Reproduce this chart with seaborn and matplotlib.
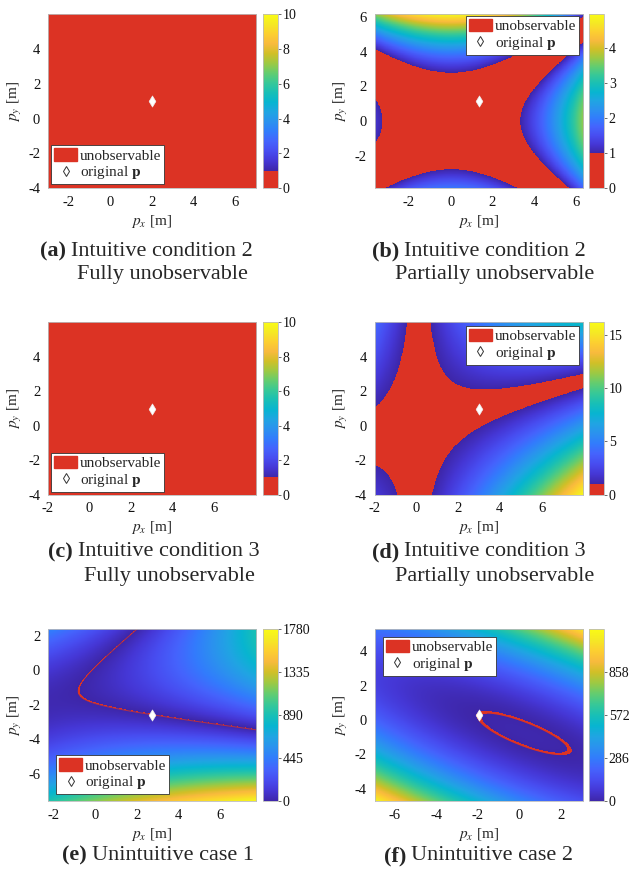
import numpy as np
import matplotlib
matplotlib.use("Agg")
import matplotlib.pyplot as plt
import seaborn as sns
from matplotlib.colors import LinearSegmentedColormap, Normalize
from matplotlib.patches import Patch
from matplotlib.lines import Line2D

# ---------------- values ----------------
panel_letters = ["a", "b", "c", "d", "e", "f"]
caption_line1 = ["Intuitive condition 2", "Intuitive condition 2",
                 "Intuitive condition 3", "Intuitive condition 3",
                 "Unintuitive case 1", "Unintuitive case 2"]
caption_line2 = ["Fully unobservable", "Partially unobservable",
                 "Fully unobservable", "Partially unobservable", "", ""]
original_px = [2.0, 1.35, 3.0, 3.0, 2.73, -1.95]
original_py = [1.0, 1.15, 1.0, 1.0, -2.60, 0.28]
window_half_width = 5.0
x_ticks = [[-2, 0, 2, 4, 6], [-2, 0, 2, 4, 6], [-2, 0, 2, 4, 6],
           [-2, 0, 2, 4, 6], [-2, 0, 2, 4, 6], [-6, -4, -2, 0, 2]]
y_ticks = [[-4, -2, 0, 2, 4], [-2, 0, 2, 4, 6], [-4, -2, 0, 2, 4],
           [-4, -2, 0, 2, 4], [-6, -4, -2, 0, 2], [-4, -2, 0, 2, 4]]
cbar_vmax = [10.0, 4.95, 10.0, 16.2, 1780.0, 1143.0]
cbar_ticks = [[0, 2, 4, 6, 8, 10], [0, 1, 2, 3, 4], [0, 2, 4, 6, 8, 10],
              [0, 5, 10, 15], [0, 445, 890, 1335, 1780], [0, 286, 572, 858]]
unobservable_threshold = 1.0
legend_labels = ["unobservable", r"original $\mathbf{p}$"]

# field models, parameters
saddle_b = {"ax": 3.3, "ay": 2.78}                       # |x^2/ax^2 - y^2/ay^2|
cross_d = {"shear": 0.0125, "slope": 0.32, "offset": 0.04, "scale": 3.3}
hyper_e = {"c_low": -2.29, "m_low": -0.16, "c_up": 0.55, "m_up": 1.005,
           "k": 0.9, "gain": 26.5}
ellipse_f = {"cx": 0.19, "cy": -0.79, "angle": -26.0, "a": 2.4, "b": 0.65,
             "gain": 10.3}

# ---------------- style ----------------
PARULA = [(0.2422, 0.1504, 0.6603), (0.2706, 0.2147, 0.8364), (0.2813, 0.3006, 0.9414),
          (0.2699, 0.3892, 0.9906), (0.1963, 0.4847, 0.9892), (0.1687, 0.5703, 0.9359),
          (0.1248, 0.6459, 0.8883), (0.0297, 0.7082, 0.8163), (0.0964, 0.7500, 0.7120),
          (0.2161, 0.7843, 0.5923), (0.3909, 0.8029, 0.4354), (0.6174, 0.7876, 0.2612),
          (0.8203, 0.7498, 0.1535), (0.9728, 0.7298, 0.2394), (0.9892, 0.8136, 0.1885),
          (0.9597, 0.9135, 0.1423), (0.9769, 0.9839, 0.0805)]
RED = "#dc3324"

sns.set_theme(style="white")
plt.rcParams["font.family"] = ["Liberation Serif", "DejaVu Serif"]
plt.rcParams["mathtext.fontset"] = "stix"
plt.rcParams["axes.unicode_minus"] = False

W, H = 629, 873
fig = plt.figure(figsize=(W / 100, H / 100), dpi=100)


def frac(l, r, t, b):
    return [l / W, 1 - b / H, (r - l) / W, (b - t) / H]


rows = [(14.3, 188.0), (322.3, 494.7), (629.0, 801.3)]
cols = [((47.8, 256.0), (262.7, 277.7)), ((374.5, 583.3), (589.3, 604.0))]
legend_loc = ["lower left", "upper right", "lower left", "upper right", "lower left", "upper left"]
legend_anchor = [(51, 184.3), (579.3, 16), (51, 491.7), (579.3, 326), (56, 794.3), (382.7, 636.7)]
caption_pos = [(162, 251, 274), (495, 251, 274), (169, 552, 577), (495, 552, 577),
               (173, 855, None), (492, 856, None)]
contour_width = [0, 0, 0, 0, 0.7, 1.1]
contour_alpha = [0, 0, 0, 0, 0.75, 1.0]


def make_cmap(vmax):
    t = unobservable_threshold / vmax
    stops = [(0.0, RED), (t, RED)]
    n = len(PARULA)
    for k, c in enumerate(PARULA):
        stops.append((t + (1 - t) * k / (n - 1), c))
    return LinearSegmentedColormap.from_list("unobs", stops, N=4096)


def field(i, X, Y):
    if i in (0, 2):
        return np.zeros_like(X), None
    if i == 1:
        p = saddle_b
        return np.abs(X ** 2 / p["ax"] ** 2 - Y ** 2 / p["ay"] ** 2), None
    if i == 3:
        p = cross_d
        s = (X - p["shear"] * Y) * (Y - p["slope"] * X - p["offset"]) / p["scale"]
        return np.abs(s), None
    if i == 4:
        p = hyper_e
        s = (Y - p["c_low"] - p["m_low"] * X) * (Y - p["c_up"] - p["m_up"] * X) + p["k"]
        return p["gain"] * np.abs(s), s
    p = ellipse_f
    th = np.deg2rad(p["angle"])
    u = (X - p["cx"]) * np.cos(th) + (Y - p["cy"]) * np.sin(th)
    v = -(X - p["cx"]) * np.sin(th) + (Y - p["cy"]) * np.cos(th)
    s = u ** 2 / p["a"] ** 2 + v ** 2 / p["b"] ** 2 - 1
    return p["gain"] * np.abs(s), s


caption_texts = []
for i in range(6):
    r, c = divmod(i, 2)
    (al, ar), (cl, cr) = cols[c]
    top, bot = rows[r]
    ax = fig.add_axes(frac(al, ar, top, bot))
    cax = fig.add_axes(frac(cl, cr, top, bot))

    px, py = original_px[i], original_py[i]
    xlim = (px - window_half_width, px + window_half_width)
    ylim = (py - window_half_width, py + window_half_width)
    xs = np.linspace(xlim[0], xlim[1], 600)
    ys = np.linspace(ylim[0], ylim[1], 600)
    X, Y = np.meshgrid(xs, ys)
    val, signed = field(i, X, Y)

    cmap = make_cmap(cbar_vmax[i])
    norm = Normalize(vmin=0, vmax=cbar_vmax[i])
    im = ax.imshow(val, origin="lower", extent=(*xlim, *ylim), aspect="auto",
                   cmap=cmap, norm=norm, interpolation="nearest")
    if signed is not None:
        ax.contour(X, Y, signed, levels=[0], colors=[RED],
                   linewidths=contour_width[i], alpha=contour_alpha[i])

    sns.scatterplot(x=[px], y=[py], marker="d", s=32, color="white",
                    edgecolor="#eeeeee", linewidth=0.5, ax=ax, zorder=6, legend=False)

    ax.set_xlim(xlim)
    ax.set_ylim(ylim)
    ax.set_xticks(x_ticks[i])
    ax.set_yticks(y_ticks[i])
    ax.tick_params(direction="out", length=2.5, width=0.6, color="#555555",
                   labelsize=10.5, pad=3, labelcolor="#111111")
    for sp in ax.spines.values():
        sp.set_color("#bbbbbb")
        sp.set_linewidth(0.6)
    ax.set_xlabel(r"$p_x$ [m]", fontsize=11, va="center")
    ax.set_ylabel(r"$p_y$ [m]", fontsize=11, va="center")
    axw = ar - al
    axh = bot - top
    ax.xaxis.set_label_coords(0.5, -33 / axh)
    ax.yaxis.set_label_coords(-33 / axw, 0.5)

    cb = fig.colorbar(im, cax=cax, ticks=cbar_ticks[i])
    cb.ax.set_yticklabels([str(t) for t in cbar_ticks[i]])
    cb.ax.tick_params(direction="out", length=2, width=0.6, color="#555555",
                      labelsize=10, pad=1.5, labelcolor="#111111")
    cb.outline.set_edgecolor("#bbbbbb")
    cb.outline.set_linewidth(0.6)

    handles = [Patch(facecolor=RED, edgecolor=RED),
               Line2D([], [], marker="d", linestyle="none", markerfacecolor="white",
                      markeredgecolor="#333333", markeredgewidth=0.7, markersize=5.5)]
    lx, ly = legend_anchor[i]
    leg = ax.legend(handles, legend_labels, loc=legend_loc[i],
                    bbox_to_anchor=(lx / W, 1 - ly / H), bbox_transform=fig.transFigure,
                    borderaxespad=0, fontsize=11, frameon=True, fancybox=False,
                    framealpha=1, edgecolor="#333333", borderpad=0.2,
                    labelspacing=0.1, handlelength=1.5, handleheight=0.85,
                    handletextpad=0.2)
    leg.get_frame().set_linewidth(0.6)

    cx, y1, y2 = caption_pos[i]
    t1 = fig.text(cx / W, 1 - y1 / H, caption_line1[i], ha="center", va="center",
                  fontsize=16)
    caption_texts.append((t1, y1, i))
    if y2 is not None:
        fig.text(cx / W, 1 - y2 / H, caption_line2[i], ha="center", va="center",
                 fontsize=16)

fig.canvas.draw()
renderer = fig.canvas.get_renderer()
for t1, y1, i in caption_texts:
    bb = t1.get_window_extent(renderer)
    fig.text((bb.x0 - 5) / W, 1 - y1 / H, f"({panel_letters[i]})", ha="right",
             va="center", fontsize=16, fontweight="bold")

fig.savefig("out.png", dpi=100)
